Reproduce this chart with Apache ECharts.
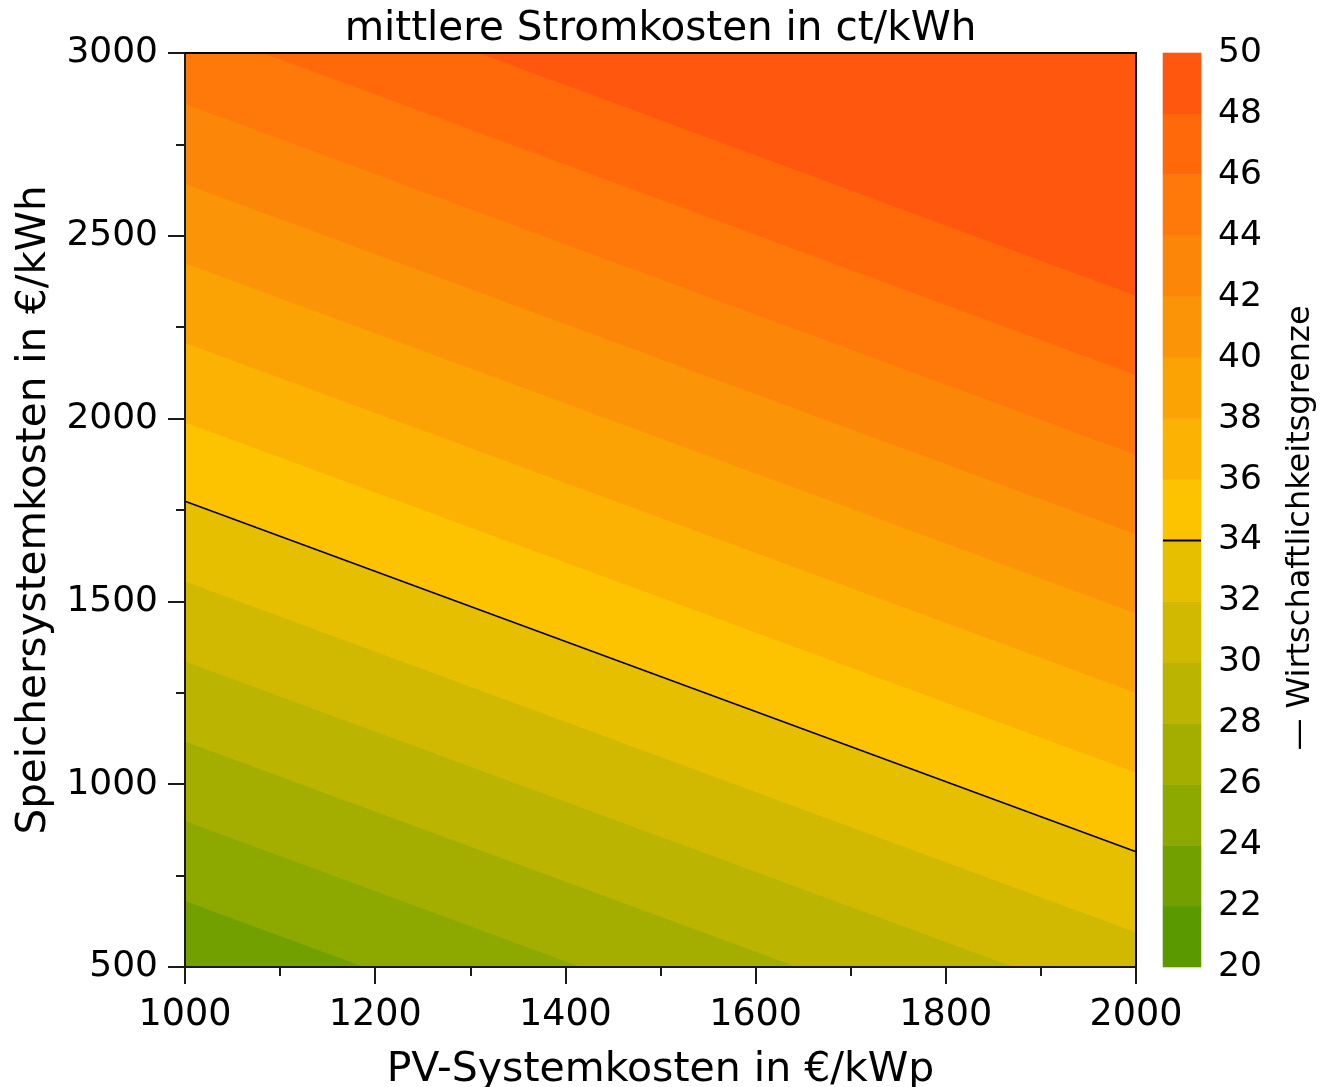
<!DOCTYPE html>
<html>
<head>
<meta charset="utf-8">
<script src="https://cdn.jsdelivr.net/npm/echarts@6.0.0/dist/echarts.min.js"></script>
<style>
  html, body { margin: 0; padding: 0; background: #fff; }
  #chart { width: 1321px; height: 1087px; }
</style>
</head>
<body>
<div id="chart"></div>
<script>
// ---- data ----
// contour levels (ct/kWh) and the storage cost (€/kWh) where each contour line
// meets PV = 1000 and PV = 2000 €/kWp
const levels          = [22, 24, 26, 28, 30, 32, 34, 36, 38, 40, 42, 44, 46, 48];
const storageAtPv1000 = [464, 682, 901, 1118, 1337, 1556, 1774, 1991, 2208, 2426, 2643, 2862, 3080, 3298];
const storageAtPv2000 = [-497, -278, -59, 160, 378, 596, 815, 1033, 1251, 1468, 1685, 1902, 2120, 2337];
const limitLevel = 34; // Wirtschaftlichkeitsgrenze

// colour of band [20-22], [22-24], ... [48-50]
const bandColors = ['#5a9a00', '#71a000', '#8da900', '#a4ae00', '#bbb400', '#d0b900', '#e5bf00',
                    '#fdc300', '#fbb202', '#fba305', '#fb9406', '#fc8608', '#ff780a', '#ff690a', '#ff570d'];

const xTicks  = [1000, 1200, 1400, 1600, 1800, 2000];
const yTicks  = [500, 1000, 1500, 2000, 2500, 3000];
const cbTicks = [20, 22, 24, 26, 28, 30, 32, 34, 36, 38, 40, 42, 44, 46, 48, 50];

const FONT = 'DejaVu Sans';
const xMin = xTicks[0], xMax = xTicks[xTicks.length - 1];
const yMin = yTicks[0], yMax = yTicks[yTicks.length - 1];
const FAR = 1e5;

function clipHalf(pts, keep, cross) {
  const out = [];
  for (let i = 0; i < pts.length; i++) {
    const a = pts[i], b = pts[(i + 1) % pts.length];
    const ia = keep(a), ib = keep(b);
    if (ia) out.push(a);
    if (ia !== ib) out.push(cross(a, b));
  }
  return out;
}
function crossY(c) { return (a, b) => { const t = (c - a[1]) / (b[1] - a[1]); return [a[0] + t * (b[0] - a[0]), c]; }; }
function crossX(c) { return (a, b) => { const t = (c - a[0]) / (b[0] - a[0]); return [c, a[1] + t * (b[1] - a[1])]; }; }
function clipRect(pts) {
  pts = clipHalf(pts, p => p[1] >= yMin, crossY(yMin));
  pts = clipHalf(pts, p => p[1] <= yMax, crossY(yMax));
  pts = clipHalf(pts, p => p[0] >= xMin, crossX(xMin));
  pts = clipHalf(pts, p => p[0] <= xMax, crossX(xMax));
  return pts;
}

// band i lies between contour (i-1) and contour i
function bandPolygon(i) {
  const lo1 = i - 1 >= 0 ? storageAtPv1000[i - 1] : -FAR;
  const lo2 = i - 1 >= 0 ? storageAtPv2000[i - 1] : -FAR;
  const hi1 = i < levels.length ? storageAtPv1000[i] : FAR;
  const hi2 = i < levels.length ? storageAtPv2000[i] : FAR;
  return clipRect([[xMin, lo1], [xMax, lo2], [xMax, hi2], [xMin, hi1]]);
}

const iLimit = levels.indexOf(limitLevel);
const axisColor = '#1a1a1a';
const plain = v => String(v);

const option = {
  animation: false,
  backgroundColor: '#ffffff',
  title: {
    text: 'mittlere Stromkosten in ct/kWh',
    left: 'center', top: 9, padding: 0,
    textStyle: { fontFamily: FONT, fontSize: 40.5, fontWeight: 'normal', color: '#000' }
  },
  grid: [
    { left: 185, top: 53, width: 951, height: 914, containLabel: false, outerBoundsMode: 'none' },
    { left: 1163, top: 53, width: 38, height: 914, containLabel: false, outerBoundsMode: 'none' }
  ],
  xAxis: [
    {
      gridIndex: 0, type: 'value', min: xMin, max: xMax, interval: 200, position: 'bottom', z: 10,
      name: 'PV-Systemkosten in €/kWp', nameLocation: 'middle', nameGap: 83,
      nameTextStyle: { fontFamily: FONT, fontSize: 41, color: '#000' },
      axisLine: { show: true, onZero: false, lineStyle: { color: axisColor, width: 2 } },
      axisTick: { show: true, length: 17, lineStyle: { color: axisColor, width: 2 } },
      minorTick: { show: true, splitNumber: 2, length: 9, lineStyle: { color: axisColor, width: 2 } },
      axisLabel: { fontFamily: FONT, fontSize: 36.5, color: '#000', margin: 30, formatter: plain },
      splitLine: { show: false }
    },
    {
      gridIndex: 0, type: 'value', min: xMin, max: xMax, position: 'top', z: 10,
      axisLine: { show: true, onZero: false, lineStyle: { color: '#000', width: 2 } },
      axisTick: { show: false }, axisLabel: { show: false }, splitLine: { show: false }
    },
    { gridIndex: 1, type: 'value', min: 0, max: 1, show: false }
  ],
  yAxis: [
    {
      gridIndex: 0, type: 'value', min: yMin, max: yMax, interval: 500, position: 'left', z: 10,
      name: 'Speichersystemkosten in €/kWh', nameLocation: 'middle', nameGap: 115,
      nameTextStyle: { fontFamily: FONT, fontSize: 40.5, color: '#000' },
      axisLine: { show: true, onZero: false, lineStyle: { color: axisColor, width: 2 } },
      axisTick: { show: true, length: 17, lineStyle: { color: axisColor, width: 2 } },
      minorTick: { show: true, splitNumber: 2, length: 9, lineStyle: { color: axisColor, width: 2 } },
      axisLabel: { fontFamily: FONT, fontSize: 36, color: '#000', margin: 27, formatter: plain },
      splitLine: { show: false }
    },
    {
      gridIndex: 0, type: 'value', min: yMin, max: yMax, position: 'right', z: 10,
      axisLine: { show: true, onZero: false, lineStyle: { color: '#000', width: 2 } },
      axisTick: { show: false }, axisLabel: { show: false }, splitLine: { show: false }
    },
    {
      gridIndex: 1, type: 'value', min: cbTicks[0], max: cbTicks[cbTicks.length - 1], interval: 2,
      position: 'right',
      axisLine: { show: false }, axisTick: { show: false }, splitLine: { show: false },
      axisLabel: { fontFamily: FONT, fontSize: 34.5, color: '#000', margin: 17, formatter: plain }
    }
  ],
  series: [
    {
      type: 'custom', xAxisIndex: 0, yAxisIndex: 0, z: 2, silent: true,
      data: bandColors.map((c, i) => [1500, 1750, i]),
      renderItem: function (params, api) {
        const i = params.dataIndex;
        const poly = bandPolygon(i);
        if (poly.length < 3) return null;
        return {
          type: 'polygon',
          shape: { points: poly.map(p => api.coord(p)) },
          style: { fill: bandColors[i], stroke: bandColors[i], lineWidth: 1 }
        };
      }
    },
    {
      type: 'line', xAxisIndex: 0, yAxisIndex: 0, z: 5, silent: true,
      symbol: 'none',
      lineStyle: { color: '#000', width: 1.6 },
      data: [[xMin, storageAtPv1000[iLimit]], [xMax, storageAtPv2000[iLimit]]]
    },
    {
      type: 'custom', xAxisIndex: 2, yAxisIndex: 2, z: 2, silent: true,
      data: bandColors.map((c, i) => [0.5, cbTicks[i] + 1, i]),
      renderItem: function (params, api) {
        const i = params.dataIndex;
        const p1 = api.coord([0, cbTicks[i + 1]]);
        const p2 = api.coord([1, cbTicks[i]]);
        return {
          type: 'rect',
          shape: { x: p1[0], y: p1[1], width: p2[0] - p1[0], height: p2[1] - p1[1] },
          style: { fill: bandColors[i], stroke: bandColors[i], lineWidth: 0.6 }
        };
      }
    },
    {
      type: 'line', xAxisIndex: 2, yAxisIndex: 2, z: 5, silent: true,
      symbol: 'none',
      lineStyle: { color: '#000', width: 2 },
      data: [[0, limitLevel], [1, limitLevel]]
    }
  ],
  graphic: [
    {
      type: 'text', x: 1301, y: 528, rotation: Math.PI / 2,
      style: {
        text: '— Wirtschaftlichkeitsgrenze',
        fontFamily: FONT, fontSize: 32, fill: '#000',
        align: 'center', verticalAlign: 'middle'
      }
    }
  ]
};

const chart = echarts.init(document.getElementById('chart'), null, { renderer: 'canvas' });
chart.setOption(option);
</script>
</body>
</html>
